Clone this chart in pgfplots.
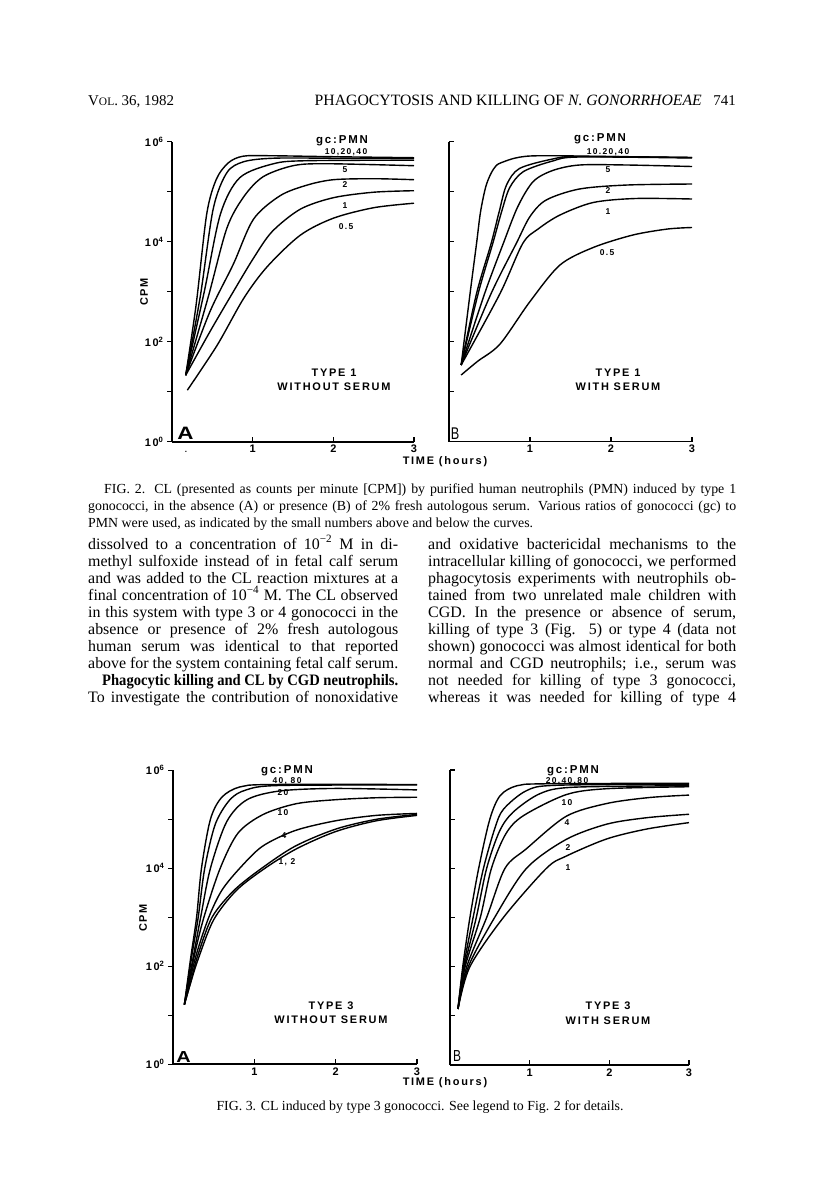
\documentclass[border=0pt]{standalone}
\usepackage{fontspec}
\setmainfont{Liberation Serif}
\newfontfamily\figfont[LetterSpace=16]{Liberation Sans}
\usepackage{pgfplots}
\pgfplotsset{compat=1.18}

\newcommand\body{\fontsize{16}{17}\selectfont}
\newcommand\capt{\fontsize{13.9}{16}\selectfont}
\newcommand\ff[1]{\figfont\bfseries\fontsize{#1}{#1}\selectfont}

\pgfplotsset{
  clbase/.style={
    scale only axis, clip=false,
    xmin=0, xmax=3, ymin=0, ymax=6,
    axis x line*=bottom, axis y line*=left,
    axis line style={line width=1.8bp, -},
    xtick={1,2,3}, xticklabels={1,2,3}, ytick={0,1,2,3,4,5,6},
    xtick align=inside,
    major tick length=5bp,
    every tick/.style={black, line width=1.3bp},
    xticklabel style={font=\ff{11}},
    yticklabel style={font=\ff{11}},
    cycle list={{black, solid}},
    every axis plot/.append style={line width=1.4bp, smooth, no markers},
  },
  panelA/.style={clbase, ytick align=outside,
    yticklabels={10\textsuperscript{0},,10\textsuperscript{2},,10\textsuperscript{4},,10\textsuperscript{6}}},
  panelB/.style={clbase, ytick align=inside, yticklabels={}},
}

\begin{document}
\begin{tikzpicture}
\fill[white] (0,0) rectangle (816bp,-1194bp);

% ---- Fig. 2 A: type 1, without serum (y = log10 CPM)
\begin{axis}[panelA, at={(172bp,-441.7bp)}, anchor=south west, width=242bp, height=300bp]
\addplot coordinates {(0.17,1.33) (0.30,2.75) (0.43,4.55) (0.55,5.25) (0.70,5.58) (0.88,5.71) (1.2,5.72) (2.0,5.70) (3.0,5.68)};
\addplot coordinates {(0.17,1.33) (0.35,2.9) (0.51,4.65) (0.68,5.38) (0.89,5.6) (1.26,5.67) (2.0,5.67) (3.0,5.66)};
\addplot coordinates {(0.17,1.33) (0.40,3.0) (0.60,4.55) (0.84,5.28) (1.26,5.56) (1.67,5.62) (3.0,5.63)};
\addplot coordinates {(0.17,1.33) (0.45,2.9) (0.68,4.27) (0.89,4.9) (1.13,5.3) (1.5,5.52) (1.9,5.56) (3.0,5.52)};
\addplot coordinates {(0.17,1.33) (0.47,2.6) (0.76,3.55) (1.01,4.45) (1.34,4.92) (1.67,5.13) (2.0,5.24) (2.5,5.26) (3.0,5.24)};
\addplot coordinates {(0.17,1.33) (0.47,2.2) (0.76,3.0) (1.01,3.67) (1.24,4.2) (1.59,4.65) (2.0,4.88) (2.5,4.99) (3.0,5.02)};
\addplot coordinates {(0.19,1.03) (0.56,1.93) (0.89,2.87) (1.18,3.5) (1.59,4.13) (2.0,4.47) (2.5,4.68) (3.0,4.77)};
\end{axis}

% ---- Fig. 2 B: type 1, with serum
\begin{axis}[panelB, at={(449bp,-441.5bp)}, anchor=south west, width=243bp, height=300bp]
\addplot coordinates {(0.15,1.53) (0.26,2.96) (0.34,3.96) (0.39,4.6) (0.46,5.13) (0.55,5.45) (0.65,5.58) (1.0,5.71) (2.0,5.70) (3.0,5.68)};
\addplot coordinates {(0.15,1.53) (0.34,2.96) (0.52,3.96) (0.62,4.6) (0.71,5.13) (0.87,5.46) (1.28,5.65) (1.6,5.70) (3.0,5.68)};
\addplot coordinates {(0.15,1.53) (0.36,2.96) (0.54,3.96) (0.65,4.6) (0.75,5.08) (0.92,5.4) (1.28,5.61) (1.6,5.69) (3.0,5.67)};
\addplot coordinates {(0.15,1.53) (0.44,2.96) (0.67,3.96) (0.85,4.7) (1.04,5.2) (1.28,5.42) (1.61,5.53) (2.2,5.53) (3.0,5.5)};
\addplot coordinates {(0.15,1.53) (0.52,2.96) (0.83,3.96) (1.0,4.5) (1.2,4.83) (1.61,5.05) (2.2,5.13) (3.0,5.15)};
\addplot coordinates {(0.15,1.53) (0.63,2.96) (0.91,3.96) (1.1,4.25) (1.37,4.53) (1.78,4.78) (2.3,4.86) (3.0,4.85)};
\addplot coordinates {(0.15,1.33) (0.35,1.6) (0.63,1.95) (1.0,2.8) (1.37,3.53) (1.78,3.88) (2.27,4.13) (2.7,4.25) (3.0,4.28)};
\end{axis}

% ---- Fig. 3 A: type 3, without serum
\begin{axis}[panelA, at={(173bp,-1064.3bp)}, anchor=south west, width=244bp, height=294bp]
\addplot coordinates {(0.14,1.22) (0.22,2.2) (0.29,3.0) (0.35,4.0) (0.46,5.0) (0.6,5.45) (0.82,5.66) (1.2,5.71) (3.0,5.71)};
\addplot coordinates {(0.14,1.22) (0.23,2.2) (0.31,3.0) (0.39,4.0) (0.52,4.9) (0.7,5.4) (0.9,5.6) (1.3,5.69) (3.0,5.70)};
\addplot coordinates {(0.14,1.22) (0.25,2.2) (0.34,3.0) (0.46,4.0) (0.66,4.95) (0.91,5.4) (1.32,5.58) (2.0,5.63) (3.0,5.6)};
\addplot coordinates {(0.14,1.22) (0.26,2.2) (0.38,3.0) (0.58,4.0) (0.8,4.72) (1.11,5.1) (1.52,5.32) (2.0,5.4) (2.5,5.44) (3.0,5.45)};
\addplot coordinates {(0.14,1.22) (0.28,2.2) (0.44,3.0) (0.6,3.55) (0.82,4.0) (1.1,4.45) (1.5,4.77) (2.0,4.97) (2.5,5.08) (3.0,5.12)};
\addplot coordinates {(0.14,1.22) (0.22,1.7) (0.30,2.2) (0.48,3.0) (0.75,3.55) (1.09,4.0) (1.5,4.45) (2.0,4.8) (2.5,5.0) (3.0,5.1)};
\addplot coordinates {(0.14,1.22) (0.22,1.68) (0.31,2.15) (0.5,2.95) (0.78,3.55) (1.13,4.0) (1.52,4.4) (2.0,4.75) (2.5,4.97) (3.0,5.08)};
\end{axis}

% ---- Fig. 3 B: type 3, with serum
\begin{axis}[panelB, at={(450bp,-1065bp)}, anchor=south west, width=239bp, height=295bp]
\addplot coordinates {(0.10,1.14) (0.16,2.0) (0.25,3.0) (0.36,4.0) (0.50,5.0) (0.63,5.48) (0.84,5.68) (1.2,5.72) (3.0,5.73)};
\addplot coordinates {(0.10,1.14) (0.17,2.0) (0.29,3.0) (0.42,4.0) (0.56,4.8) (0.67,5.2) (0.96,5.58) (1.34,5.69) (3.0,5.71)};
\addplot coordinates {(0.10,1.14) (0.18,2.0) (0.33,3.0) (0.46,4.0) (0.62,4.75) (0.79,5.14) (1.13,5.52) (1.55,5.65) (3.0,5.68)};
\addplot coordinates {(0.10,1.14) (0.19,2.0) (0.38,3.0) (0.52,4.0) (0.7,4.7) (0.92,5.07) (1.46,5.5) (1.97,5.62) (3.0,5.66)};
\addplot coordinates {(0.10,1.14) (0.21,2.0) (0.46,3.0) (0.69,4.0) (0.96,4.4) (1.46,5.06) (1.97,5.32) (2.5,5.44) (3.0,5.49)};
\addplot coordinates {(0.10,1.14) (0.23,2.0) (0.56,3.0) (0.96,4.0) (1.46,4.59) (1.97,4.9) (2.47,5.03) (3.0,5.10)};
\addplot coordinates {(0.10,1.14) (0.25,2.0) (0.67,3.0) (1.21,4.0) (1.46,4.25) (1.97,4.6) (2.47,4.8) (3.0,4.93)};
\end{axis}

\begin{scope}[x=1bp, y=-1bp, inner sep=0pt]
% running head
\node[anchor=base west] at (88,105) {\fontsize{15}{17}\selectfont V{\fontsize{11.5}{12}\selectfont OL}. 36, 1982};
\node[anchor=base east] at (702,105) {\fontsize{15.8}{17}\selectfont PHAGOCYTOSIS AND KILLING OF \textit{N. GONORRHOEAE}};
\node[anchor=base east] at (736,105) {\fontsize{15}{17}\selectfont 741};

% fig 2 labels
\node at (342,141) {\ff{11.5}gc:PMN};
\node at (346,152) {\ff{8.5}10,20,40};
\node at (345,170) {\ff{8.5}5};
\node at (345,185) {\ff{8.5}2};
\node at (345,206) {\ff{8.5}1};
\node at (346,227) {\ff{8.5}0.5};
\node at (334,373) {\ff{11}TYPE 1};
\node at (334,387) {\ff{11}WITHOUT SERUM};
\node[rotate=90] at (144,292) {\ff{11}CPM};
\node at (185.5,433.5) {\figfont\bfseries\fontsize{18}{18}\selectfont\scalebox{1.25}[1]{A}};
\node[anchor=base] at (186,452) {\ff{8}.};

\node at (600,139) {\ff{11.5}gc:PMN};
\node at (608,152) {\ff{8.5}10.20,40};
\node at (608,170) {\ff{8.5}5};
\node at (608,191) {\ff{8.5}2};
\node at (608,212) {\ff{8.5}1};
\node at (607,253) {\ff{8.5}0.5};
\node at (618,373) {\ff{11}TYPE 1};
\node at (618,387) {\ff{11}WITH SERUM};
\node at (455,434) {\figfont\fontsize{17}{17}\selectfont\scalebox{0.75}[1]{B}};

\node at (445,462) {\ff{11}TIME (hours)};

% fig 2 caption
\node[anchor=base west] at (104,493) {\capt\makebox[632bp][s]{FIG. 2. CL (presented as counts per minute [CPM]) by purified human neutrophils (PMN) induced by type 1}};
\node[anchor=base west] at (88,510) {\capt\makebox[648bp][s]{gonococci, in the absence (A) or presence (B) of 2\% fresh autologous serum. Various ratios of gonococci (gc) to}};
\node[anchor=base west] at (88,527) {\capt PMN were used, as indicated by the small numbers above and below the curves.};

% body text, left column
\node[anchor=base west] at (88,549) {\body\makebox[310bp][s]{dissolved to a concentration of 10\textsuperscript{−2} M in di-}};
\node[anchor=base west] at (88,566) {\body\makebox[310bp][s]{methyl sulfoxide instead of in fetal calf serum}};
\node[anchor=base west] at (88,583) {\body\makebox[310bp][s]{and was added to the CL reaction mixtures at a}};
\node[anchor=base west] at (88,600) {\body\makebox[310bp][s]{final concentration of 10\textsuperscript{−4} M. The CL observed}};
\node[anchor=base west] at (88,617) {\body\makebox[310bp][s]{in this system with type 3 or 4 gonococci in the}};
\node[anchor=base west] at (88,634) {\body\makebox[310bp][s]{absence or presence of 2\% fresh autologous}};
\node[anchor=base west] at (88,651) {\body\makebox[310bp][s]{human serum was identical to that reported}};
\node[anchor=base west] at (88,668) {\body\makebox[310bp][s]{above for the system containing fetal calf serum.}};
\node[anchor=base west] at (102,685) {\body\resizebox{296bp}{\height}{\bfseries Phagocytic killing and CL by CGD neutrophils.}};
\node[anchor=base west] at (88,702) {\body\makebox[310bp][s]{To investigate the contribution of nonoxidative}};

% body text, right column
\node[anchor=base west] at (428,549) {\body\makebox[308bp][s]{and oxidative bactericidal mechanisms to the}};
\node[anchor=base west] at (428,566) {\body\makebox[308bp][s]{intracellular killing of gonococci, we performed}};
\node[anchor=base west] at (428,583) {\body\makebox[308bp][s]{phagocytosis experiments with neutrophils ob-}};
\node[anchor=base west] at (428,600) {\body\makebox[308bp][s]{tained from two unrelated male children with}};
\node[anchor=base west] at (428,617) {\body\makebox[308bp][s]{CGD. In the presence or absence of serum,}};
\node[anchor=base west] at (428,634) {\body\makebox[308bp][s]{killing of type 3 (Fig. 5) or type 4 (data not}};
\node[anchor=base west] at (428,651) {\body\makebox[308bp][s]{shown) gonococci was almost identical for both}};
\node[anchor=base west] at (428,668) {\body\makebox[308bp][s]{normal and CGD neutrophils; i.e., serum was}};
\node[anchor=base west] at (428,685) {\body\makebox[308bp][s]{not needed for killing of type 3 gonococci,}};
\node[anchor=base west] at (428,702) {\body\makebox[308bp][s]{whereas it was needed for killing of type 4}};

% fig 3 labels
\node at (287,771) {\ff{11.5}gc:PMN};
\node at (287,781) {\ff{8.5}40, 80};
\node at (283,793) {\ff{8.5}20};
\node at (283,813) {\ff{8.5}10};
\node at (284,836) {\ff{8.5}4};
\node at (287,862) {\ff{8.5}1, 2};
\node at (331,1006) {\ff{11}TYPE 3};
\node at (331,1020) {\ff{11}WITHOUT SERUM};
\node[rotate=90] at (143,918) {\ff{11}CPM};
\node at (183.5,1057.5) {\figfont\bfseries\fontsize{16}{16}\selectfont\scalebox{1.25}[1]{A}};

\node at (573,771) {\ff{11.5}gc:PMN};
\node at (567,781) {\ff{8.5}20.40.80};
\node at (567,803) {\ff{8.5}10};
\node at (567,823) {\ff{8.5}4};
\node at (568,848) {\ff{8.5}2};
\node at (568,868) {\ff{8.5}1};
\node at (608,1006) {\ff{11}TYPE 3};
\node at (608,1021) {\ff{11}WITH SERUM};
\node at (457,1056.5) {\figfont\fontsize{16}{16}\selectfont\scalebox{0.75}[1]{B}};

\node at (445,1083) {\ff{11}TIME (hours)};
\node[anchor=base] at (420,1110) {\capt FIG. 3. CL induced by type 3 gonococci. See legend to Fig. 2 for details.};
\end{scope}
\end{tikzpicture}
\end{document}
